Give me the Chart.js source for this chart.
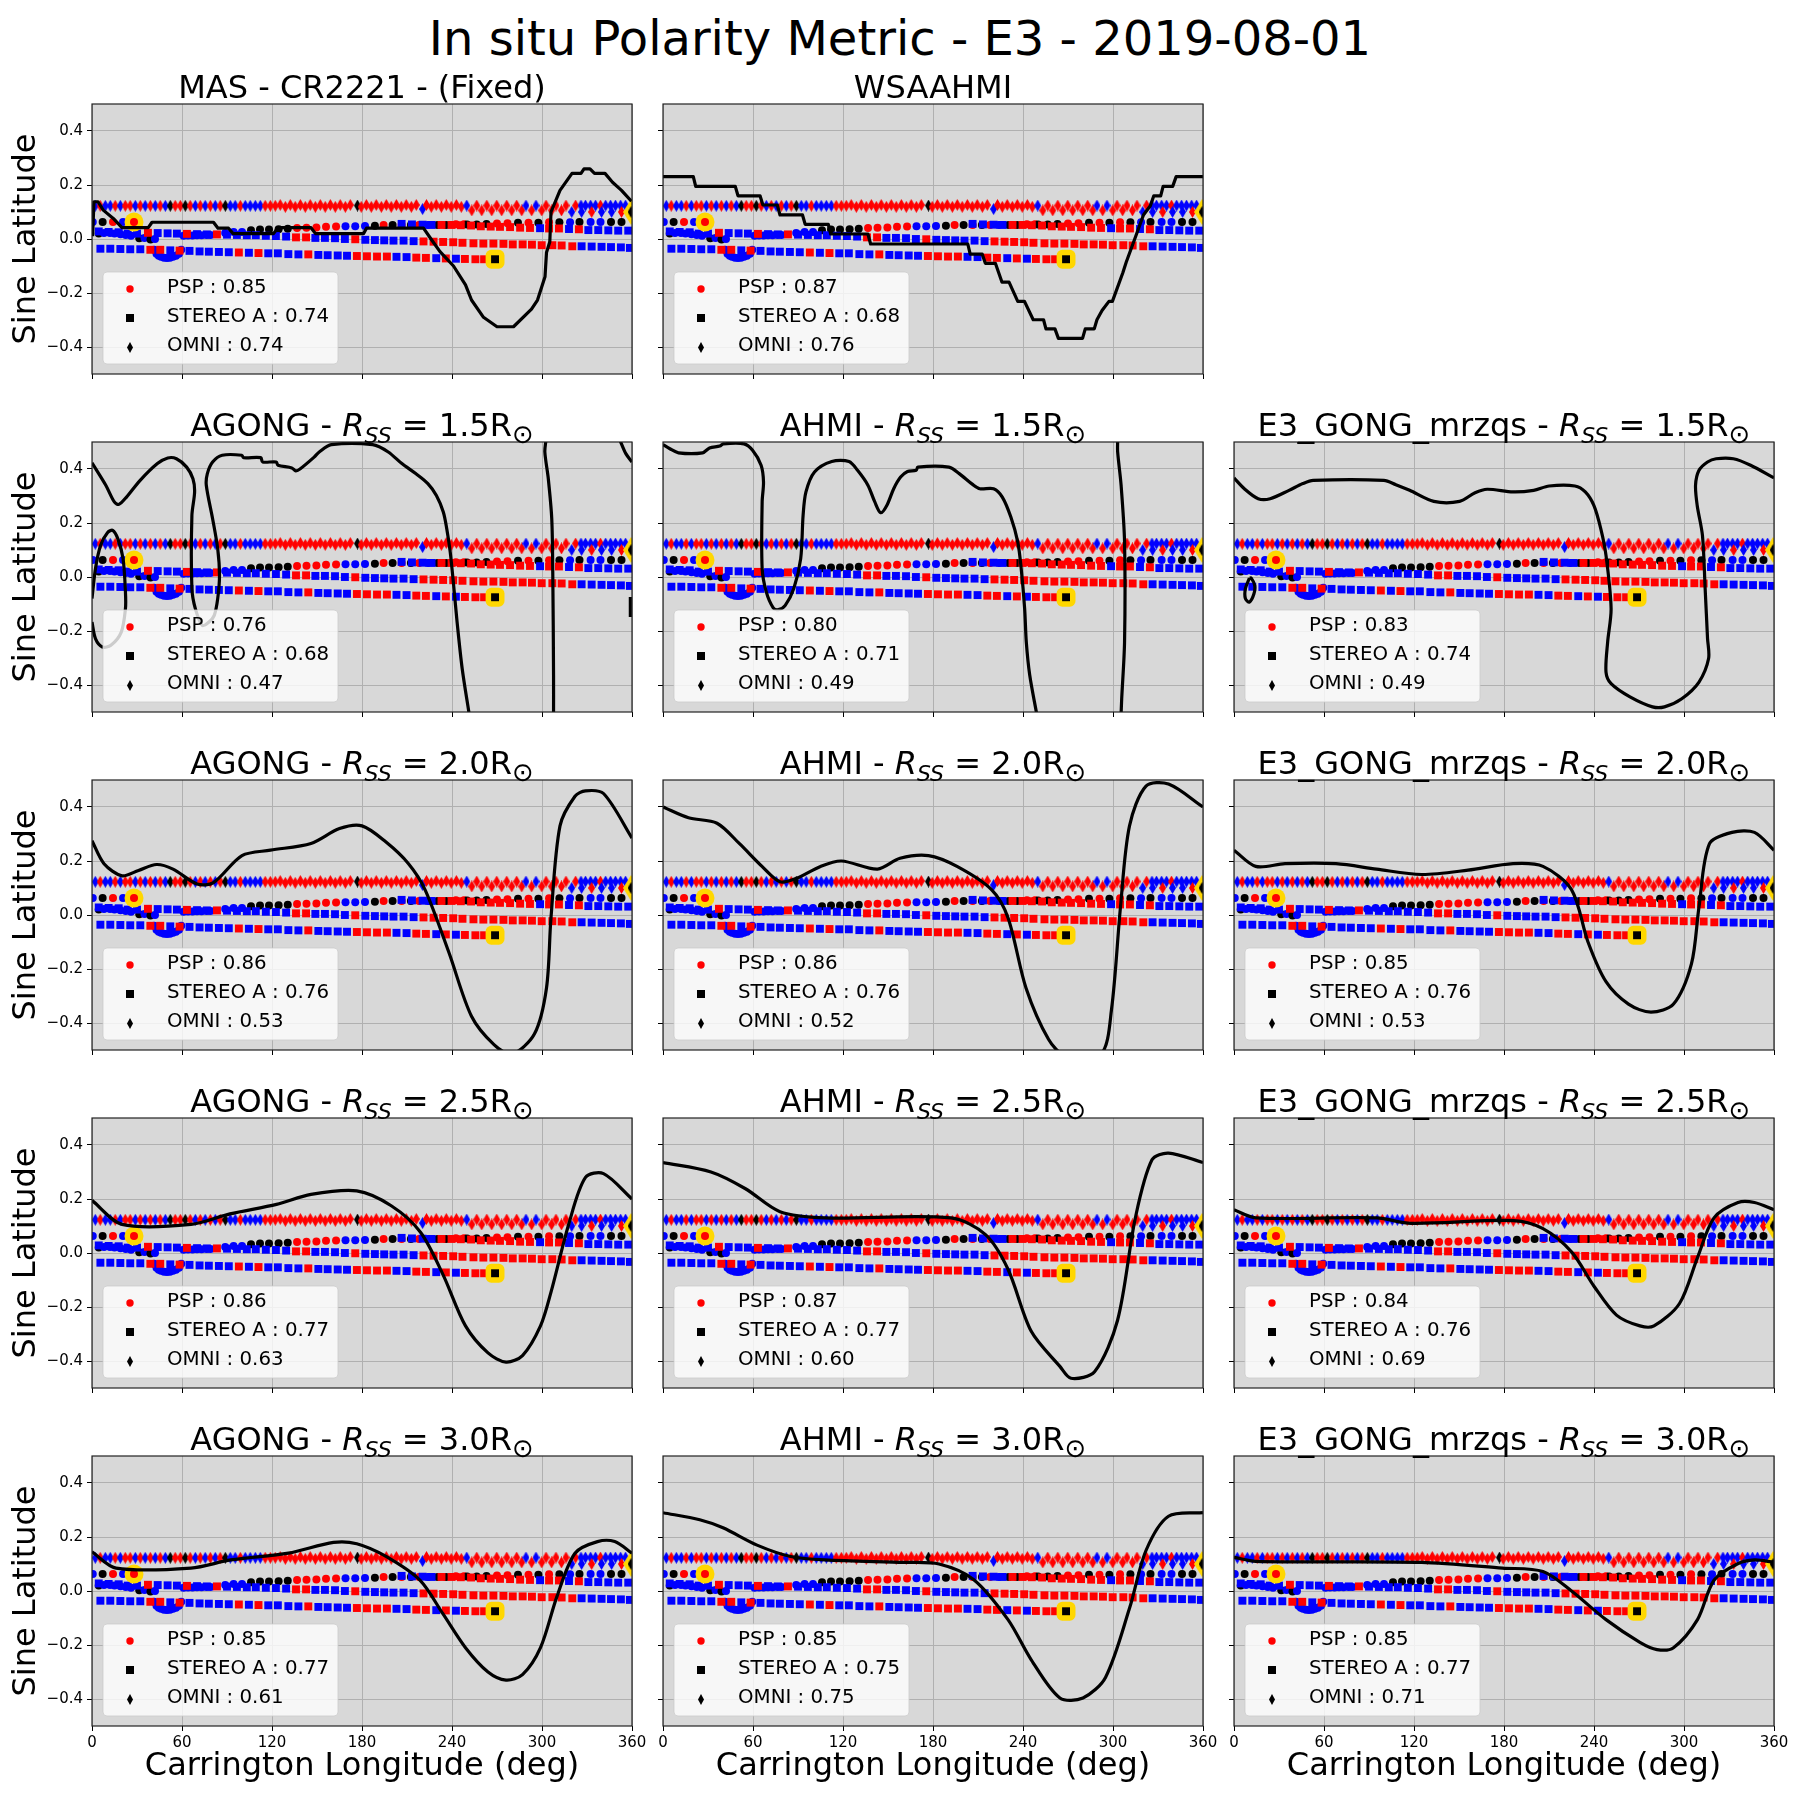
<!doctype html>
<html lang="en-us">

<head>
  <meta charset="utf-8">
  <title>In situ Polarity Metric - E3 - 2019-08-01</title>
  <script src="https://cdn.jsdelivr.net/npm/chart.js@4"></script>
  <style>
    html, body { margin: 0; background: #fff; overflow: hidden; }
    body { width: 1800px; height: 1800px; position: relative; font-family: "DejaVu Sans"; color: #000; }
    canvas { position: absolute; }
    .suptitle { position: absolute; left: 0; top: 10px; width: 1800px; text-align: center; font-size: 48px; line-height: 56px; }
    .subtitle { position: absolute; width: 540px; text-align: center; font-size: 32px; line-height: 40px; white-space: nowrap; }
    .subtitle sub { font-size: 22px; line-height: 0; }
    .subtitle sub.sun { font-size: 26px; }
  </style>
</head>

<body>
  <div class="suptitle">In situ Polarity Metric - E3 - 2019-08-01</div>
  <script>
    // polarity codes: 1 red, -1 blue, 0 black
    const omniLon = [359.4,2.2,5.5,8.9,12.2,15.5,18.9,22.2,25.5,28.9,32.2,35.5,38.9,42.2,45.5,48.9,52.2,55.5,58.9,62.2,65.5,68.9,72.2,75.5,78.9,82.2,85.5,88.9,92.2,95.5,98.9,102.2,105.5,108.9,112.2,115.5,118.9,122.2,125.5,128.9,132.2,135.5,138.9,142.2,145.5,148.9,152.2,155.5,158.9,162.2,165.5,168.9,172.2,177,179.5,182.9,186.2,189.5,192.9,196.2,199.5,202.9,206.2,209.5,212.9,216.2,220.4,223,226.2,229.5,232.9,236.2,239.5,242.9,246.2,
      249.8,253.2,256.5,259.8,263.2,266.5,269.8,273.1,276.5,279.8,283.1,286.5,289.3,293.1,296,299.8,302.7,306.4,309.3,313,316,319.8,322.4,326,326.4,329,332.4,333.1,335.7,339,339.7,342.4,345.7,346.4,349,352.4,353,355.7];
    const omniLat = [0.1,0.123,0.123,0.123,0.123,0.123,0.123,0.123,0.123,0.123,0.123,0.123,0.123,0.123,0.123,0.123,0.123,0.123,0.123,0.123,0.123,0.123,0.123,0.123,0.123,0.123,0.123,0.123,0.123,0.123,0.123,0.123,0.123,0.123,0.123,0.123,0.123,0.123,
      0.126,0.119,0.126,0.119,0.126,0.119,0.126,0.119,0.126,0.119,0.126,0.119,0.126,0.119,0.126,0.124,0.119,0.126,0.119,0.126,0.119,0.126,0.119,0.126,0.119,0.126,0.119,0.126,0.111,0.126,0.119,0.126,0.119,0.126,0.119,0.126,0.119,
      0.124,0.106,0.124,0.106,0.124,0.106,0.124,0.106,0.124,0.106,0.124,0.106,0.124,0.106,0.124,0.106,0.124,0.106,0.124,0.106,0.124,0.1,0.124,0.124,0.1,0.124,0.124,0.1,0.124,0.124,0.1,0.124,0.124,0.1,0.124,0.124,0.1,0.124];
    const omniPol = [0,-1,1,-1,-1,1,-1,1,1,-1,1,-1,1,-1,1,-1,0,1,1,0,1,-1,1,-1,1,-1,1,0,-1,-1,1,-1,-1,-1,-1,1,1,1,
      1,1,1,1,1,1,1,1,1,1,1,1,1,1,1,0,1,1,1,1,1,1,1,1,1,1,1,1,-1,1,1,1,1,1,1,1,1,
      -1,1,1,1,1,1,1,1,1,1,1,1,-1,1,-1,1,1,1,1,1,1,-1,1,-1,-1,-1,-1,1,-1,1,-1,-1,-1,-1,-1,-1,1,-1];

    const pspLon = [28,20.7,14,7.1,0.5,4.5,8,12,15,19,22.5,26,31.5,35,39,42,41.5,43,46,50,54,58,59.5,44.5,48,52,56,61,64,67,70,73,76.5,79,88.8,94.4,100,106,112,118,124.4,130.5,136.7,143,149.6,156,162.7,169,175.5,182,188.6,194.4,200.4,206.4,212.6,218,223.7,230.4,236,242.6,248,250,256.5,263,270,277,284,291,297.6,304.7,311.6,318.7,325,332.4,339,346,353];
    const pspLat = [0.063,0.063,0.063,0.063,0.063,0.02,0.022,0.022,0.02,0.018,0.015,0.012,0.003,0.004,-0.002,0,-0.04,-0.055,-0.066,-0.07,-0.066,-0.055,-0.04,-0.062,-0.069,-0.069,-0.062,0.012,0.013,0.013,0.014,0.014,0.015,0.015,0.022,0.026,0.026,0.032,0.035,0.035,0.036,0.038,0.041,0.042,0.043,0.045,0.046,0.047,0.047,0.048,0.049,0.052,0.052,0.052,0.052,0.052,0.052,0.052,0.052,0.055,0.055,0.054,0.054,0.056,0.057,0.058,0.06,0.06,0.06,0.062,0.062,0.062,0.063,0.063,0.063,0.063,0.063];
    const pspPol = [1,-1,1,0,-1,0,-1,-1,-1,-1,-1,-1,0,-1,0,-1,-1,-1,-1,-1,-1,-1,-1,-1,-1,-1,-1,-1,-1,-1,-1,-1,-1,-1,-1,-1,-1,0,0,0,0,0,1,1,1,1,1,-1,-1,-1,0,1,0,1,0,1,-1,0,0,1,1,0,0,0,1,1,0,1,0,1,0,-1,0,-1,-1,0,0];

    const stereoLon = [268.7,261.4,255.6,248.6,242.6,235.9,229.5,222.6,216.2,209.7,203,196.6,190,183.3,176.6,170,163.8,157.1,150.9,144.2,137.6,130.9,123.9,117.5,111,104.6,97.9,91.2,84.6,77.9,71.7,65,58.4,52.2,45.5,38.9,32.2,25.5,18.9,12.2,5.6,
      4.5,11.1,17.8,23.8,30,37.3,43.8,50.4,56.6,63.3,70,76.6,83.3,90,96.6,103.2,109.2,115.9,122.6,129.4,136,142.7,148.9,155.3,162,168.6,175.5,182.2,188.6,194.8,201,207.7,214.4,221,227.7,234.1,240.8,247,254.3,260.9,267.6,274.3,280.5,287.1,293.3,299.8,306.9,313.1,320.2,326.4,333.1,339.7,346,352.6,358.6,
      206.4,213.3,220.4,226.4,233,239.7,245.9,252.7,259.2,265.8,272,278.7,285.4,292,298.7,304.7,311.3,318,324.6,330.9,337.5,344.2,350.8,357.5];
    const stereoLat = [-0.075,-0.075,-0.075,-0.074,-0.073,-0.072,-0.071,-0.07,-0.069,-0.067,-0.066,-0.065,-0.065,-0.064,-0.063,-0.062,-0.061,-0.06,-0.059,-0.057,-0.057,-0.056,-0.053,-0.053,-0.052,-0.051,-0.05,-0.049,-0.048,-0.047,-0.046,-0.044,-0.043,-0.042,-0.04,-0.04,-0.038,-0.038,-0.037,-0.036,-0.036,
      0.028,0.026,0.025,0.02,0.02,0.023,0.022,0.021,0.02,0.019,0.018,0.017,0.017,0.016,0.015,0.014,0.014,0.012,0.011,0.009,0.006,0.006,0.004,0.004,0.003,0,-0.001,-0.003,-0.004,-0.005,-0.006,-0.006,-0.008,-0.009,-0.01,-0.011,-0.012,-0.014,-0.016,-0.017,-0.017,-0.018,-0.02,-0.02,-0.021,-0.023,-0.023,-0.024,-0.027,-0.027,-0.028,-0.029,-0.03,-0.031,-0.033,
      0.056,0.054,0.053,0.052,0.052,0.052,0.051,0.05,0.047,0.046,0.045,0.044,0.042,0.041,0.04,0.039,0.039,0.037,0.036,0.033,0.033,0.032,0.031,0.031];
    const stereoPol = [0,1,1,1,-1,1,-1,1,1,-1,-1,1,1,1,1,-1,-1,-1,-1,1,-1,-1,-1,-1,1,-1,1,-1,-1,-1,-1,-1,1,-1,1,1,-1,-1,-1,-1,-1,
      -1,-1,-1,-1,-1,1,-1,-1,-1,1,-1,-1,1,-1,-1,-1,-1,-1,-1,-1,1,1,-1,-1,-1,-1,1,-1,-1,-1,-1,-1,-1,1,1,1,1,1,1,1,1,1,1,1,1,1,1,1,1,-1,-1,-1,-1,-1,-1,
      -1,-1,-1,-1,1,1,1,1,1,1,1,1,1,1,-1,1,1,-1,1,-1,-1,-1,-1,-1];

    // black contour of each panel, NaN breaks a contour into pieces
    const masLon = [0.4,1.3,4,7.5,14,20,37.5,40,81,84,91,94,121,124,146,149,181,183,221,226,232,241,249,253,261,270,281,293,297,302,303,305.2,306,312,320,326,328,332,335,342,347,353,359.6];
    const masLat = [0.01,0.138,0.138,0.107,0.077,0.042,0.042,0.062,0.062,0.04,0.04,0.02,0.02,0.042,0.042,0.02,0.02,0.04,0.04,0,-0.047,-0.1,-0.17,-0.226,-0.29,-0.325,-0.325,-0.26,-0.226,-0.14,-0.05,-0.01,0.1,0.18,0.243,0.243,0.26,0.26,0.243,0.243,0.21,0.18,0.14];
    const wsaLon = [0,20.2,21.8,48.2,50,64.7,66.6,76.2,78,93,94.8,110.2,111.8,136.6,138.4,203.2,204.8,212.8,214.9,221.6,226,230.7,236.5,241,246.8,253.7,255.3,261.3,263.6,279.7,281.5,287.5,289.3,292.7,297.3,299.6,306.5,308.8,315.7,320.3,324.9,327.2,331.8,333.4,339.8,342.1,360];
    const wsaLat = [0.231,0.231,0.195,0.195,0.16,0.16,0.126,0.126,0.089,0.089,0.054,0.054,0.0185,0.0185,-0.0185,-0.0185,-0.056,-0.056,-0.09,-0.09,-0.16,-0.16,-0.231,-0.231,-0.299,-0.299,-0.333,-0.333,-0.368,-0.368,-0.333,-0.333,-0.299,-0.265,-0.231,-0.231,-0.126,-0.086,0.0185,0.089,0.123,0.16,0.16,0.195,0.195,0.231,0.231];
    const agong15Lon = [0,9.2,14.9,17.9,23,32.1,43.6,50.5,56.3,63.1,67.3,68.4,66.6,66.6,68.9,73.5,78,81.5,83.8,85,83.8,80.4,76.2,76.9,80.4,86.8,99.9,101,112.5,113.7,122.8,124,133.2,135.9,138.9,148.1,151.5,159.6,187.1,197.5,206.6,215.8,223.9,229.6,234.2,236.5,238.8,241.1,243.4,246.8,251.4,NaN,307.7,307.7,307.2,306.5,304.2,301.9,302.6,NaN,352,355.9,360,NaN,0,2.3,5.7,10.3,13.8,17.2,20.7,22.3,22.3,19.5,12.6,6.9,2.3,0,NaN,358.9,358.9];
    const agong15Lat = [0.423,0.34,0.278,0.269,0.296,0.358,0.42,0.441,0.438,0.407,0.364,0.315,0.228,-0.043,-0.117,-0.179,-0.167,-0.142,-0.08,0.006,0.105,0.216,0.34,0.383,0.426,0.451,0.451,0.442,0.442,0.426,0.426,0.414,0.404,0.393,0.401,0.444,0.463,0.49,0.49,0.463,0.42,0.383,0.346,0.302,0.241,0.179,0.093,-0.031,-0.167,-0.34,-0.506,NaN,-0.506,-0.364,0.006,0.216,0.364,0.463,0.506,NaN,0.506,0.457,0.426,NaN,-0.08,0.031,0.117,0.164,0.173,0.142,0.068,-0.056,-0.117,-0.204,-0.253,-0.259,-0.228,-0.167,NaN,-0.074,-0.148];
    const ahmi15Lon = [0,4.6,10.3,26.4,31,37.9,40.2,54,59.7,65.4,67,66.1,66.1,68.9,73.5,76.9,81.5,87.2,91.8,93.4,95.3,101,112.5,124,129.7,136.6,141.2,145.1,149.2,153.8,158.4,163,168.8,169.9,190.6,197.5,206.6,211.2,220.4,226.2,231.9,236.5,238.8,241.1,242.2,244.5,249.1,NaN,305.4,305.8,307.7,307.7,305.4,303.1,303.1];
    const ahmi15Lat = [0.49,0.475,0.46,0.46,0.478,0.485,0.493,0.493,0.469,0.414,0.352,0.278,0.031,-0.056,-0.114,-0.121,-0.105,-0.043,0.068,0.228,0.315,0.389,0.428,0.428,0.395,0.34,0.278,0.238,0.265,0.327,0.37,0.391,0.395,0.407,0.407,0.383,0.342,0.327,0.327,0.296,0.222,0.13,0.031,-0.117,-0.241,-0.364,-0.506,NaN,-0.506,-0.451,-0.241,0.13,0.34,0.463,0.506];
    const e315Lon = [0,6.9,16.1,24.1,36.7,45.9,52.8,99.9,107.9,117.1,133.2,150.4,160.7,168.8,186,199.8,210.1,227.3,234.2,239.9,244.5,248,251.4,249.1,248,251.4,264,279,287,298.5,310,316.4,315.7,314.1,312.3,308.8,307.7,310,315.7,321.4,332.9,344.4,360,NaN,10.3,7.6,7.6,10.3,13.3,13.8,11.5,10.3,NaN,42,53,NaN,119,130];
    const e315Lat = [0.367,0.327,0.29,0.29,0.321,0.346,0.358,0.358,0.342,0.321,0.28,0.28,0.312,0.325,0.315,0.321,0.337,0.337,0.315,0.265,0.179,0.08,-0.117,-0.241,-0.352,-0.395,-0.444,-0.481,-0.481,-0.451,-0.389,-0.302,-0.228,-0.043,0.154,0.265,0.34,0.395,0.426,0.438,0.438,0.414,0.367,NaN,-0.004,-0.043,-0.08,-0.093,-0.062,-0.031,-0.004,-0.004,NaN,0.499,0.499,NaN,0.499,0.499];
    const agong20Lon = [0,8,20,31,43,54,70,81,100,119,146,165,180,196,211,222,238,253,268,280,295,303,306,312,322,329,341,360];
    const agong20Lat = [0.275,0.19,0.145,0.165,0.187,0.17,0.115,0.12,0.22,0.24,0.265,0.32,0.33,0.27,0.19,0.094,-0.14,-0.375,-0.48,-0.515,-0.44,-0.27,-0.01,0.33,0.44,0.46,0.45,0.285];
    const ahmi20Lon = [0,17,36,51,66,78,89,105,119,143,158,177,196,219,230,242,257,268,292,299,305,311,322,337,360];
    const ahmi20Lat = [0.4,0.36,0.34,0.264,0.18,0.123,0.136,0.18,0.2,0.17,0.21,0.22,0.18,0.094,-0.01,-0.27,-0.46,-0.52,-0.515,-0.35,0.03,0.33,0.477,0.485,0.4];
    const e320Lon = [0,14.5,34,68,95,125,156,186,206,225,236,248,263,278,293,305,310,317,332,347,360];
    const e320Lat = [0.24,0.18,0.19,0.19,0.17,0.15,0.166,0.19,0.18,0.094,-0.1,-0.247,-0.33,-0.36,-0.33,-0.18,0.03,0.264,0.306,0.306,0.24];
    const agong25Lon = [0,20,66,92,123,146,176.5,199.5,219,234,249,264,276,287,299,306,318,329,341,360];
    const agong25Lat = [0.195,0.106,0.106,0.145,0.18,0.217,0.23,0.175,0.077,-0.08,-0.27,-0.37,-0.404,-0.38,-0.27,-0.145,0.11,0.28,0.294,0.2];
    const ahmi25Lon = [0,32,55,78,108.5,192,215,230,245.5,264.6,272,287.7,303,314.9,326,337,360];
    const ahmi25Lat = [0.335,0.3,0.238,0.153,0.13,0.13,0.068,-0.06,-0.29,-0.42,-0.464,-0.44,-0.25,0.13,0.345,0.37,0.335];
    const e325Lon = [0,14.5,95,118,186.5,206,225,240,255,270.6,280,297,309,320,336,347,360];
    const e325Lat = [0.16,0.13,0.13,0.11,0.12,0.09,0.004,-0.123,-0.23,-0.27,-0.27,-0.187,-0.017,0.13,0.187,0.187,0.16];
    const agong30Lon = [0,16,66,92.5,131,161,176.5,196,218.6,234,249,264,276,287,299,310,322,337,348.5,360];
    const agong30Lat = [0.145,0.085,0.085,0.115,0.14,0.18,0.175,0.128,0.04,-0.085,-0.21,-0.3,-0.33,-0.31,-0.21,-0.02,0.14,0.183,0.183,0.14];
    const ahmi30Lon = [0,24.5,40,62.7,85,108,161,184,207,230,245.5,264.6,280,295,311,322,337,360];
    const ahmi30Lat = [0.29,0.264,0.234,0.17,0.128,0.115,0.106,0.1,0.043,-0.106,-0.255,-0.396,-0.396,-0.32,-0.064,0.15,0.277,0.29];
    const e330Lon = [0,14.5,125,179,206,225,248,270.6,282,293,309,320,335.5,347,360];
    const e330Lat = [0.125,0.11,0.106,0.085,0.072,0,-0.106,-0.19,-0.217,-0.21,-0.106,0.04,0.1,0.115,0.106];

    const xTicks = [0, 60, 120, 180, 240, 300, 360];
    const yTicks = [-0.4, -0.2, 0, 0.2, 0.4];
    const pspScores = [[0.85, 0.87], [0.76, 0.80, 0.83], [0.86, 0.86, 0.85], [0.86, 0.87, 0.84], [0.85, 0.85, 0.85]];
    const stereoScores = [[0.74, 0.68], [0.68, 0.71, 0.74], [0.76, 0.76, 0.76], [0.77, 0.77, 0.76], [0.77, 0.75, 0.77]];
    const omniScores = [[0.74, 0.76], [0.47, 0.49, 0.49], [0.53, 0.52, 0.53], [0.63, 0.60, 0.69], [0.61, 0.75, 0.71]];
    const models = ['AGONG', 'AHMI', 'E3_GONG_mrzqs'];
    const radii = ['1.5', '2.0', '2.5', '3.0'];
    const curves = [
      [[masLon, masLat], [wsaLon, wsaLat]],
      [[agong15Lon, agong15Lat], [ahmi15Lon, ahmi15Lat], [e315Lon, e315Lat]],
      [[agong20Lon, agong20Lat], [ahmi20Lon, ahmi20Lat], [e320Lon, e320Lat]],
      [[agong25Lon, agong25Lat], [ahmi25Lon, ahmi25Lat], [e325Lon, e325Lat]],
      [[agong30Lon, agong30Lat], [ahmi30Lon, ahmi30Lat], [e330Lon, e330Lat]]
    ];

    const RED = '#ff0000', BLUE = '#0000ff', BLACK = '#000000', GOLD = '#ffd700';
    const colX = [92, 663, 1234], rowY = [104, 442, 780, 1118, 1456];
    const plotW = 540, plotH = 270, marginL = 92, marginT = 6, marginR = 20, marginB = 74;

    Chart.defaults.font.family = '"DejaVu Sans"';
    Chart.defaults.color = '#000';

    function polColor(p) { return p === 1 ? RED : p === -1 ? BLUE : BLACK; }

    function thinDiamond(color, w, h) {
      const c = document.createElement('canvas');
      c.width = w; c.height = h;
      const g = c.getContext('2d');
      g.fillStyle = color;
      g.beginPath();
      g.moveTo(w / 2, 0); g.lineTo(w, h / 2); g.lineTo(w / 2, h); g.lineTo(0, h / 2);
      g.closePath(); g.fill();
      return c;
    }
    const diamonds = { [RED]: thinDiamond(RED, 7, 12), [BLUE]: thinDiamond(BLUE, 7, 12), [BLACK]: thinDiamond(BLACK, 7, 12) };
    const goldDiamond = thinDiamond(GOLD, 16, 26);
    const legendDiamond = thinDiamond(BLACK, 6, 11);

    function points(lon, lat) { return lon.map((v, i) => ({ x: v, y: lat[i] })); }

    const panelPlugin = {
      id: 'panel',
      beforeDraw(chart) {
        const a = chart.chartArea, g = chart.ctx;
        g.fillStyle = '#d8d8d8';
        g.fillRect(a.left, a.top, a.width, a.height);
      },
      afterDatasetsDraw(chart, args, opts) {
        const a = chart.chartArea, g = chart.ctx;
        g.save();
        g.fillStyle = 'rgba(255,255,255,0.8)';
        g.strokeStyle = 'rgba(204,204,204,0.8)';
        g.beginPath();
        g.roundRect(a.left + 11, a.top + 168, 235, 92, 4);
        g.fill(); g.stroke();
        const rows = ['PSP : ' + opts.psp.toFixed(2), 'STEREO A : ' + opts.stereo.toFixed(2), 'OMNI : ' + opts.omni.toFixed(2)];
        const ys = [184, 213, 242];
        g.font = '19.8px "DejaVu Sans"';
        g.textBaseline = 'middle';
        g.fillStyle = '#000';
        rows.forEach((t, i) => g.fillText(t, a.left + 75, a.top + ys[i]));
        const mx = a.left + 38;
        g.fillStyle = RED;
        g.beginPath(); g.arc(mx, a.top + 185, 3.7, 0, Math.PI * 2); g.fill();
        g.fillStyle = BLACK;
        g.fillRect(mx - 4, a.top + 210, 8, 8);
        g.drawImage(legendDiamond, mx - 3, a.top + 238);
        g.restore();
      },
      afterDraw(chart) {
        const a = chart.chartArea, g = chart.ctx;
        g.strokeStyle = '#222';
        g.lineWidth = 1.2;
        g.strokeRect(a.left, a.top, a.width, a.height);
      }
    };

    function drawPanel(r, c) {
      const x0 = colX[c], y0 = rowY[r];
      const canvas = document.createElement('canvas');
      canvas.width = marginL + plotW + marginR;
      canvas.height = marginT + plotH + marginB;
      canvas.style.left = (x0 - marginL) + 'px';
      canvas.style.top = (y0 - marginT) + 'px';
      document.body.appendChild(canvas);

      const [curveLon, curveLat] = curves[r][c];
      const last = r === rowY.length - 1, first = c === 0;
      new Chart(canvas, {
        type: 'scatter',
        plugins: [panelPlugin],
        data: {
          datasets: [
            { data: points(curveLon, curveLat), showLine: true, borderColor: BLACK, borderWidth: 3.2, borderJoinStyle: 'round', pointRadius: 0, tension: r === 0 ? 0 : 0.3, capBezierPoints: false, spanGaps: false, order: 0, clip: 0 },
            { data: [points(pspLon, pspLat)[0]], pointBackgroundColor: RED, pointBorderWidth: 0, pointRadius: 4, order: 1, clip: 0 },
            { data: [points(stereoLon, stereoLat)[0]], pointBackgroundColor: BLACK, pointStyle: 'rect', pointBorderWidth: 0, pointRadius: 5.6, order: 1, clip: 0 },
            { data: [points(omniLon, omniLat)[0]], pointStyle: diamonds[BLACK], order: 1, clip: 0 },
            { data: [points(pspLon, pspLat)[0]], pointBackgroundColor: GOLD, pointBorderWidth: 0, pointRadius: 9.5, order: 2, clip: 0 },
            { data: [points(stereoLon, stereoLat)[0]], pointBackgroundColor: GOLD, pointStyle: 'rectRounded', pointBorderWidth: 0, pointRadius: 11, order: 2, clip: 0 },
            { data: [points(omniLon, omniLat)[0]], pointStyle: goldDiamond, order: 2, clip: 0 },
            { data: points(stereoLon, stereoLat), pointStyle: 'rect', pointBackgroundColor: stereoPol.map(polColor), pointBorderWidth: 0, pointRadius: 5.6, order: 3, clip: 0 },
            { data: points(omniLon, omniLat), pointStyle: omniPol.map(p => diamonds[polColor(p)]), order: 4, clip: 0 },
            { data: points(pspLon, pspLat), pointBackgroundColor: pspPol.map(polColor), pointBorderWidth: 0, pointRadius: 4, order: 5, clip: 0 }
          ]
        },
        options: {
          responsive: false,
          maintainAspectRatio: false,
          animation: false,
          events: [],
          layout: { autoPadding: false, padding: { top: marginT, right: marginR, left: 0, bottom: 0 } },
          plugins: {
            legend: { display: false },
            tooltip: { enabled: false },
            panel: { psp: pspScores[r][c], stereo: stereoScores[r][c], omni: omniScores[r][c] }
          },
          scales: {
            x: {
              type: 'linear', min: 0, max: 360,
              afterBuildTicks(s) { s.ticks = xTicks.map(v => ({ value: v })); },
              afterFit(s) { s.height = marginB; s.paddingLeft = 0; s.paddingRight = 0; },
              grid: { color: '#b0b0b0', lineWidth: 1, tickColor: '#000', tickLength: 5 },
              border: { display: false },
              ticks: { display: last, font: { size: 15 }, padding: 3, maxRotation: 0, autoSkip: false },
              title: { display: last, text: 'Carrington Longitude (deg)', font: { size: 32 }, padding: { top: 0, bottom: 14 } }
            },
            y: {
              type: 'linear', min: -0.5, max: 0.5,
              afterBuildTicks(s) { s.ticks = yTicks.map(v => ({ value: v })); },
              afterFit(s) { s.width = marginL; s.paddingTop = 0; s.paddingBottom = 0; },
              grid: { color: '#b0b0b0', lineWidth: 1, tickColor: '#000', tickLength: 5 },
              border: { display: false },
              ticks: { display: first, font: { size: 15 }, padding: 4, callback: v => v.toFixed(1).replace('-', '\u2212') },
              title: { display: first, text: 'Sine Latitude', font: { size: 32 }, padding: { top: 7, bottom: 0 } }
            }
          }
        }
      });

      const t = document.createElement('div');
      t.className = 'subtitle';
      t.style.left = x0 + 'px';
      t.style.top = (y0 - 37) + 'px';
      if (r === 0) t.textContent = c === 0 ? 'MAS - CR2221 - (Fixed)' : 'WSAAHMI';
      else t.innerHTML = models[c] + ' - <i>R<sub>SS</sub></i> = ' + radii[r - 1] + 'R<sub class="sun">\u2299</sub>';
      document.body.appendChild(t);
    }

    curves.forEach((row, r) => row.forEach((_, c) => drawPanel(r, c)));
  </script>
</body>

</html>
